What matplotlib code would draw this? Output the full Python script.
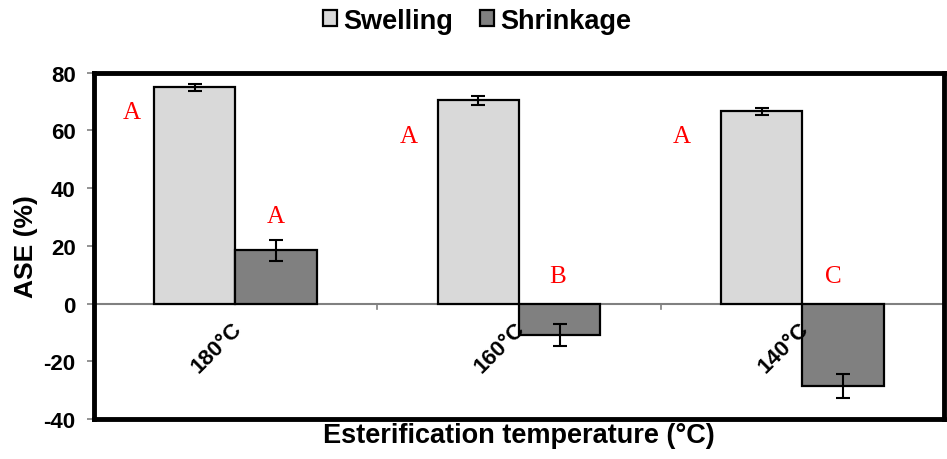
import matplotlib
matplotlib.use("Agg")
import matplotlib.pyplot as plt
import numpy as np

categories = ["180°C", "160°C", "140°C"]
swelling = [74.9, 70.4, 66.6]
swelling_err = [1.3, 1.5, 1.2]
shrinkage = [18.4, -10.9, -28.6]
shrinkage_err = [3.7, 3.8, 4.2]
swelling_letters = ["A", "A", "A"]
shrinkage_letters = ["A", "B", "C"]
yticks = [-40, -20, 0, 20, 40, 60, 80]

# letter placement (x offset from group centre, y in data units)
swelling_letter_pos = [(-0.365, 66.5), (-0.39, 58.2), (-0.425, 58.2)]
shrinkage_letter_pos = [(0.143, 30.2), (0.135, 9.4), (0.11, 9.4)]

plt.rcParams["font.family"] = ["Liberation Sans", "DejaVu Sans"]

fig = plt.figure(figsize=(9.47, 4.60), dpi=100)
ax = fig.add_axes([0.099, 0.087, 0.898, 0.753])

x = np.arange(len(categories))
w = 0.287
ax.bar(x - w / 2, swelling, w, color="#d9d9d9", edgecolor="black", linewidth=1.6,
       label="Swelling", zorder=3)
ax.bar(x + w / 2, shrinkage, w, color="#808080", edgecolor="black", linewidth=1.6,
       label="Shrinkage", zorder=3)
ax.errorbar(x - w / 2, swelling, yerr=swelling_err, fmt="none", ecolor="black",
            elinewidth=1.5, capsize=5, capthick=1.5, zorder=4)
ax.errorbar(x + w / 2, shrinkage, yerr=shrinkage_err, fmt="none", ecolor="black",
            elinewidth=1.5, capsize=5, capthick=1.5, zorder=4)

# significance letters
for i in range(len(categories)):
    dx, y = swelling_letter_pos[i]
    ax.text(i + dx, y, swelling_letters[i], color="red",
            fontsize=18, family="Liberation Serif", ha="center", va="center")
    dx, y = shrinkage_letter_pos[i]
    ax.text(i + dx, y, shrinkage_letters[i], color="red",
            fontsize=18, family="Liberation Serif", ha="center", va="center")

ax.axhline(0, color="#808080", linewidth=1.5, zorder=2)
for b in [0.5, 1.5, 2.5]:
    ax.plot([b, b], [0, -2], color="#808080", linewidth=1.2, zorder=2, clip_on=False)

ax.set_xlim(-0.5, 2.5)
ax.set_ylim(-40, 80)
ax.set_yticks(yticks)
ax.set_yticklabels([str(t) for t in yticks], fontsize=16, fontweight="bold")
ax.tick_params(axis="y", direction="out", length=5, width=1.2, color="#808080", pad=8)
ax.set_xticks([])

for i, c in enumerate(categories):
    ax.text(i - 0.015, -5.0, c, rotation=45, ha="right", va="top", fontsize=16,
            fontweight="bold", rotation_mode="anchor")

for s in ax.spines.values():
    s.set_linewidth(3.5)
    s.set_color("black")

ax.set_ylabel("ASE (%)", fontsize=19, fontweight="bold", labelpad=4)
ax.set_xlabel("Esterification temperature (°C)", fontsize=19.5, fontweight="bold", labelpad=2)

leg = fig.legend(loc="upper center", bbox_to_anchor=(0.504, 1.034), ncol=2, frameon=False,
                 prop={"size": 19.5, "weight": "bold"}, handlelength=0.5, handleheight=0.5,
                 handletextpad=0.25, columnspacing=1.0)
for h in leg.legend_handles:
    h.set_linewidth(1.6)

fig.savefig("out.png", dpi=100)
